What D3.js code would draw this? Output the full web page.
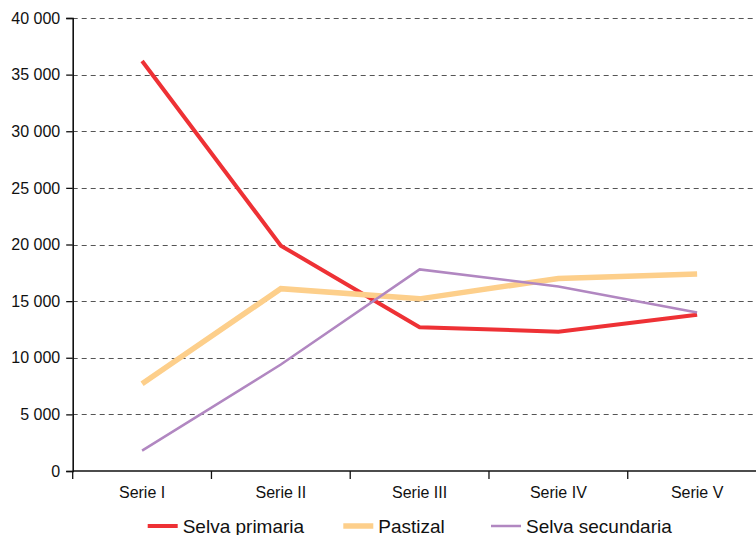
<!DOCTYPE html>
<html>
<head>
<meta charset="utf-8">
<script src="https://cdn.jsdelivr.net/npm/d3@7"></script>
<style>
  html, body { margin: 0; padding: 0; background: #fff; }
  svg { display: block; font-family: "Liberation Sans", Arial, sans-serif; }
</style>
</head>
<body>
<svg id="chart" width="756" height="535"></svg>
<script>
// Categories and series values
const categories = ["Serie I", "Serie II", "Serie III", "Serie IV", "Serie V"];
const selvaPrimaria = [36200, 19900, 12700, 12300, 13800];
const pastizal = [7700, 16100, 15200, 17000, 17400];
const selvaSecundaria = [1800, 9400, 17800, 16300, 14000];
const yTicks = [0, 5000, 10000, 15000, 20000, 25000, 30000, 35000, 40000];

const seriesNames = ["Selva primaria", "Pastizal", "Selva secundaria"];
const seriesColors = ["#ee3135", "#fdcf8b", "#b187c1"];
const seriesWidths = [4, 5.5, 2.5];
const series = [selvaPrimaria, pastizal, selvaSecundaria].map((values, i) => ({
  name: seriesNames[i], color: seriesColors[i], width: seriesWidths[i], values
}));

const svg = d3.select("#chart");
const plotLeft = 72.7, plotTop = 18, plotBottom = 471, plotRight = 766.5;

const x = d3.scaleBand().domain(categories).range([plotLeft, plotRight]);
const y = d3.scaleLinear().domain([0, 40000]).range([plotBottom, plotTop]);
const fmt = d => d3.format(",")(d).replace(/,/g, " ");

// Dashed horizontal gridlines
svg.append("g")
  .selectAll("line")
  .data(yTicks.filter(d => d > 0))
  .join("line")
  .attr("x1", plotLeft).attr("x2", 756)
  .attr("y1", d => Math.round(y(d)) + 0.5).attr("y2", d => Math.round(y(d)) + 0.5)
  .attr("stroke", "#555")
  .attr("stroke-width", 1)
  .attr("stroke-dasharray", "5,4");

// Y axis
const yAxis = svg.append("g")
  .attr("transform", `translate(${plotLeft},0)`)
  .call(d3.axisLeft(y).tickValues(yTicks).tickFormat(fmt).tickSize(6.5).tickPadding(6));
yAxis.select(".domain").attr("stroke", "#111").attr("stroke-width", 1.6);
yAxis.selectAll(".tick line").attr("stroke", "#111").attr("stroke-width", 1.3);
yAxis.selectAll(".tick text")
  .attr("font-size", 16)
  .attr("fill", "#111")
  .attr("font-family", "Liberation Sans, Arial, sans-serif");

// X axis: line, boundary ticks, category labels
const xg = svg.append("g");
xg.append("line")
  .attr("x1", plotLeft).attr("x2", 756)
  .attr("y1", plotBottom).attr("y2", plotBottom)
  .attr("stroke", "#111").attr("stroke-width", 1.6);
xg.selectAll("line.tk")
  .data(categories)
  .join("line")
  .attr("class", "tk")
  .attr("x1", d => x(d)).attr("x2", d => x(d))
  .attr("y1", plotBottom).attr("y2", plotBottom + 8)
  .attr("stroke", "#111").attr("stroke-width", 1.3);
xg.selectAll("text")
  .data(categories)
  .join("text")
  .attr("x", d => x(d) + x.bandwidth() / 2)
  .attr("y", 498)
  .attr("text-anchor", "middle")
  .attr("font-size", 16)
  .attr("fill", "#111")
  .text(d => d);

// Series lines
const line = d3.line()
  .x((d, i) => x(categories[i]) + x.bandwidth() / 2)
  .y(d => y(d));
svg.append("g")
  .selectAll("path")
  .data(series)
  .join("path")
  .attr("d", d => line(d.values))
  .attr("fill", "none")
  .attr("stroke", d => d.color)
  .attr("stroke-width", d => d.width)
  .attr("stroke-linejoin", "miter");

// Legend
const legendX = [147.7, 343.3, 491];
const legend = svg.append("g")
  .selectAll("g")
  .data(series)
  .join("g")
  .attr("transform", (d, i) => `translate(${legendX[i]},526)`);
legend.append("line")
  .attr("x1", 0).attr("x2", 30)
  .attr("stroke", d => d.color)
  .attr("stroke-width", d => d.width);
legend.append("text")
  .attr("x", 35)
  .attr("y", 6.5)
  .attr("font-size", 19)
  .attr("fill", "#111")
  .text(d => d.name);
</script>
</body>
</html>
